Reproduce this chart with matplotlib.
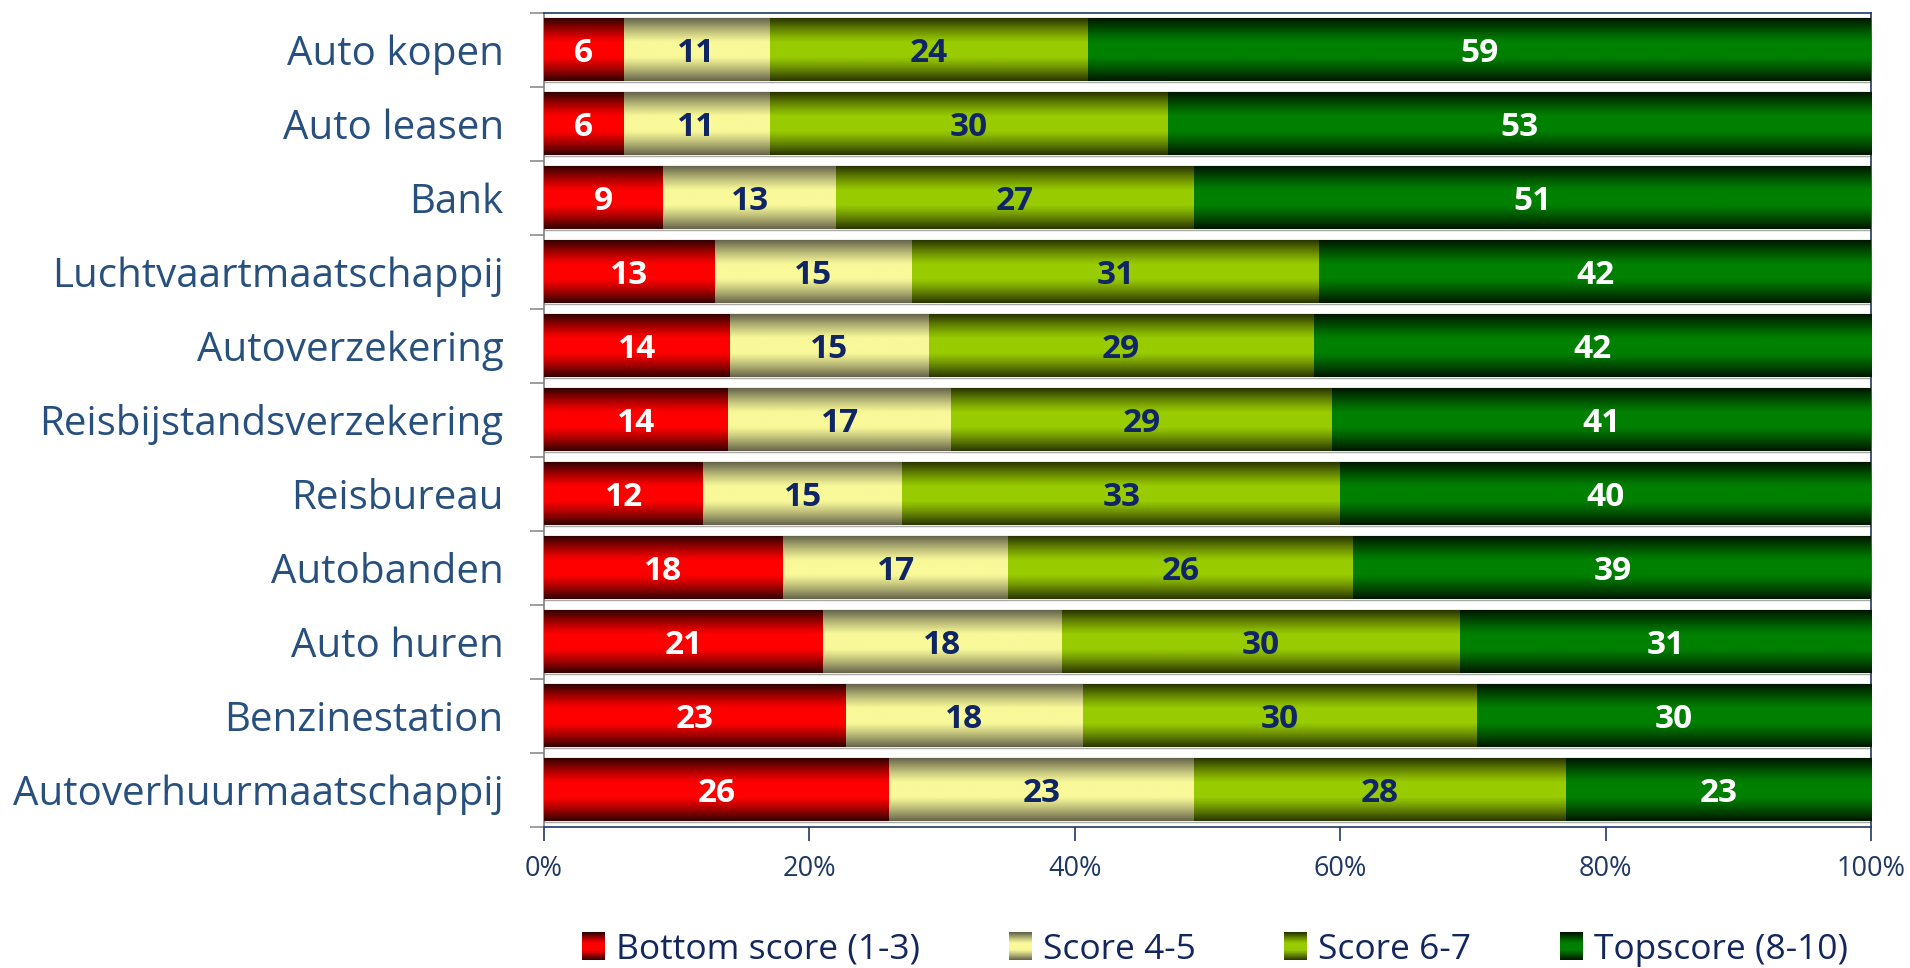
import numpy as np
import matplotlib
matplotlib.use("Agg")
import matplotlib.pyplot as plt
import matplotlib.patches as mpatches
from matplotlib.legend_handler import HandlerBase
from matplotlib.ticker import FixedLocator, PercentFormatter

plt.rcParams['font.family'] = ['Open Sans', 'DejaVu Sans']

# scores per sector, in percent (rows do not always add up to exactly 100)
categories = ['Auto kopen', 'Auto leasen', 'Bank', 'Luchtvaartmaatschappij',
              'Autoverzekering', 'Reisbijstandsverzekering', 'Reisbureau',
              'Autobanden', 'Auto huren', 'Benzinestation',
              'Autoverhuurmaatschappij']
bottom_score = [6, 6, 9, 13, 14, 14, 12, 18, 21, 23, 26]
score_4_5 = [11, 11, 13, 15, 15, 17, 15, 17, 18, 18, 23]
score_6_7 = [24, 30, 27, 31, 29, 29, 33, 26, 30, 30, 28]
top_score = [59, 53, 51, 42, 42, 41, 40, 39, 31, 30, 23]

series_names = ['Bottom score (1-3)', 'Score 4-5', 'Score 6-7', 'Topscore (8-10)']
x_ticks = [0, 20, 40, 60, 80, 100]

base_colors = ['#ff0000', '#f9f99a', '#99cc00', '#008000']
edge_colors = ['#320000', '#66654a', '#2a3500', '#001600']
text_colors = ['white', '#0f2566', '#0f2566', 'white']
navy = '#1f3864'


def gradient(base, edge, n=96):
    # dark at top and bottom, full colour through the middle band
    t = np.linspace(0, 1, n)
    d = np.abs(2 * t - 1)
    w = np.clip((d - 0.22) / 0.78, 0, 1) ** 1.2
    b = np.array(matplotlib.colors.to_rgb(base))
    e = np.array(matplotlib.colors.to_rgb(edge))
    rgb = b[None, :] * (1 - w)[:, None] + e[None, :] * w[:, None]
    return rgb[:, None, :]


class GradientHandler(HandlerBase):
    def create_artists(self, legend, orig_handle, xdescent, ydescent,
                       width, height, fontsize, trans):
        grad = orig_handle.grad[:, 0, :]
        n = len(grad)
        arts = []
        for k in range(n):
            r = mpatches.Rectangle((-xdescent, -ydescent + height * k / n),
                                   width, height / n + 0.3,
                                   facecolor=grad[k], edgecolor='none',
                                   transform=trans)
            arts.append(r)
        return arts


values = np.array([bottom_score, score_4_5, score_6_7, top_score], dtype=float)
shares = values / values.sum(axis=0) * 100
y = np.arange(len(categories))

fig = plt.figure(figsize=(19.1, 9.68), dpi=100)
ax = fig.add_axes([0.2848, 0.1457, 0.6948, 0.8409])

# thin grey rim around every bar
ax.barh(y, shares.sum(axis=0), height=0.875, fill=False,
        edgecolor='#a8a8a8', linewidth=1.0, zorder=1)

left = np.zeros(len(categories))
handles = []
for i in range(4):
    bars = ax.barh(y, shares[i], left=left, height=0.85,
                   color=base_colors[i], linewidth=0, zorder=2)
    grad = gradient(base_colors[i], edge_colors[i])
    for p, v in zip(bars.patches, values[i]):
        x0, y0, w, h = p.get_x(), p.get_y(), p.get_width(), p.get_height()
        ax.imshow(grad, extent=[x0, x0 + w, y0, y0 + h], aspect='auto',
                  interpolation='bilinear', zorder=3)
        ax.text(x0 + w / 2, y0 + h / 2, f'{v:.0f}', ha='center',
                va='center_baseline', fontsize=24, fontweight='bold',
                color=text_colors[i], zorder=4)
    left += shares[i]
    h = mpatches.Patch(facecolor=base_colors[i], label=series_names[i])
    h.grad = grad
    handles.append(h)

ax.set_xlim(0, 100)
ax.set_ylim(len(categories) - 0.5, -0.5)

ax.set_yticks(y)
ax.set_yticklabels(categories, fontsize=29, color='#27507f')
ax.yaxis.set_minor_locator(FixedLocator(np.arange(-0.5, len(categories), 1)))
ax.tick_params(axis='y', which='major', length=0, pad=29)
ax.tick_params(axis='y', which='minor', length=10, width=1.2, color='#8c8c8c')

ax.xaxis.set_major_locator(FixedLocator(x_ticks))
ax.xaxis.set_major_formatter(PercentFormatter(decimals=0))
ax.tick_params(axis='x', length=10, width=1.2, color=navy, labelcolor=navy,
               labelsize=19.5, pad=10)

for s in ax.spines.values():
    s.set_color(navy)
    s.set_linewidth(1.2)
ax.spines['left'].set_color('#7f7f7f')

fig.legend(handles=handles, handler_map={mpatches.Patch: GradientHandler()},
           loc='center', bbox_to_anchor=(0.636, 0.019), ncol=4, frameon=False,
           fontsize=25.5, labelcolor='#13275e', handlelength=0.66,
           handleheight=0.8, handletextpad=0.3, columnspacing=2.5)

fig.savefig('out.png', dpi=100)
